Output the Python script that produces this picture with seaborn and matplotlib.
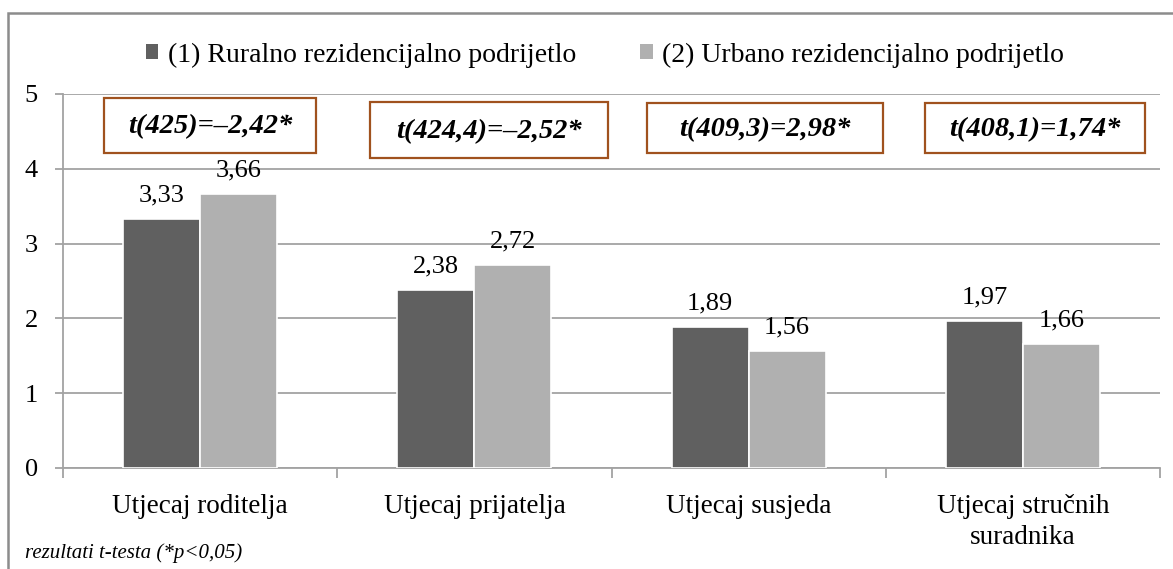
import matplotlib
matplotlib.use("Agg")
import matplotlib.pyplot as plt
from matplotlib.patches import Rectangle, Patch
import seaborn as sns
import pandas as pd

categories = ["Utjecaj roditelja", "Utjecaj prijatelja", "Utjecaj susjeda",
              "Utjecaj stručnih\nsuradnika"]
groups = ["(1) Ruralno rezidencijalno podrijetlo", "(2) Urbano rezidencijalno podrijetlo"]
rural = [3.33, 2.38, 1.89, 1.97]
urban = [3.66, 2.72, 1.56, 1.66]
t_tests = ["t(425)=\u20132,42*", "t(424,4)=\u20132,52*", "t(409,3)=2,98*", "t(408,1)=1,74*"]
footnote = "rezultati t-testa (*p<0,05)"
colors = ["#606060", "#b0b0b0"]

# extents of the t-test boxes in data units: (x0, x1, y0, y1)
box_extents = [(-0.350, 0.423, 4.21, 4.95),
               (0.619, 1.487, 4.14, 4.89),
               (1.629, 2.490, 4.21, 4.88),
               (2.643, 3.445, 4.21, 4.88)]

df = pd.DataFrame({
    "kategorija": categories * 2,
    "skupina": [groups[0]] * 4 + [groups[1]] * 4,
    "vrijednost": rural + urban,
})

sns.set_theme(style="white")
plt.rcParams["font.family"] = ["Liberation Serif", "DejaVu Serif"]
plt.rcParams["text.color"] = "black"

W, H = 1173, 569
fig = plt.figure(figsize=(W / 100, H / 100), dpi=100)
ax = fig.add_axes([63 / W, 1 - 468 / H, (1160 - 63) / W, (468 - 94) / H])

sns.barplot(data=df, x="kategorija", y="vrijednost", hue="skupina",
            order=categories, hue_order=groups, palette=colors,
            width=0.562, edgecolor="white", linewidth=1.2, ax=ax, legend=False,
            zorder=3)

ax.set_xlim(-0.5, 3.5)
ax.set_ylim(0, 5)
ax.set_yticks(range(6))
ax.set_xlabel("")
ax.set_ylabel("")

# grid and axes styling
grid_c = "#a3a3a3"
ax.yaxis.grid(True, color=grid_c, linewidth=1.3, zorder=0)
ax.xaxis.grid(False)
for side in ["top", "right"]:
    ax.spines[side].set_visible(False)
for side in ["left", "bottom"]:
    ax.spines[side].set_color(grid_c)
    ax.spines[side].set_linewidth(1.3)

ax.tick_params(axis="y", which="major", length=6, width=1.3, color=grid_c,
               labelsize=19, pad=12, left=True, labelcolor="black")
ax.tick_params(axis="x", which="major", length=0, labelsize=19.5, pad=19,
               labelcolor="black")
ax.set_xticks([-0.5, 0.5, 1.5, 2.5, 3.5], minor=True)
ax.tick_params(axis="x", which="minor", length=7.5, width=1.3, color=grid_c, bottom=True)
for lbl in ax.get_xticklabels():
    lbl.set_linespacing(1.3)

# value labels above bars
for cont in ax.containers:
    ax.bar_label(cont, labels=[f"{v:.2f}".replace(".", ",") for v in cont.datavalues],
                 padding=9, fontsize=19, color="black")

# t-test boxes
for txt, (x0, x1, y0, y1) in zip(t_tests, box_extents):
    ax.add_patch(Rectangle((x0, y0), x1 - x0, y1 - y0, facecolor="white",
                           edgecolor="#a0521e", linewidth=1.6, zorder=5))
    ax.text((x0 + x1) / 2, (y0 + y1) / 2 - 0.02, txt, ha="center", va="center",
            fontsize=20.5, fontweight="bold", fontstyle="italic", zorder=6,
            color="black")

# legend
handles = [Patch(facecolor=c, edgecolor="none") for c in colors]
leg = fig.legend(handles, groups, loc="center", bbox_to_anchor=(605 / W, 1 - 55 / H),
                 ncol=2, frameon=False, fontsize=20, handlelength=0.45,
                 handleheight=0.45, handletextpad=0.35, columnspacing=2.3)
for t in leg.get_texts():
    t.set_color("black")

# footnote
fig.text(25 / W, 1 - 553 / H, footnote, fontsize=15, fontstyle="italic",
         ha="left", va="center", color="black")

# outer frame
fig.patches.append(Rectangle((8 / W, -0.02), 1.0, 1 - 13 / H + 0.02,
                             transform=fig.transFigure, fill=False,
                             edgecolor="#8c8c8c", linewidth=1.8, zorder=0))

fig.savefig("out.png", dpi=100)
